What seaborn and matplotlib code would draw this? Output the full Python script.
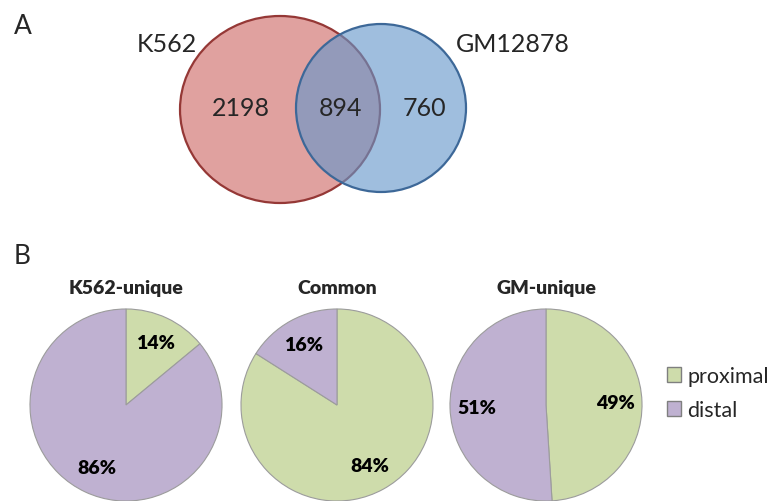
import matplotlib
matplotlib.use("Agg")
import matplotlib.pyplot as plt
from matplotlib.patches import Ellipse, Patch
import seaborn as sns

# Venn diagram: peak counts per region
venn_sets = ["K562", "GM12878"]
venn_counts = [2198, 894, 760]  # K562 only, shared, GM12878 only

# Pie charts: share of proximal / distal sites per group
pie_titles = ["K562-unique", "Common", "GM-unique"]
categories = ["proximal", "distal"]
proximal_pct = [14, 84, 49]
distal_pct = [86, 16, 51]

sns.set_theme(style="white")
plt.rcParams["font.family"] = ["Lato", "DejaVu Sans"]

green = "#CEDCAB"
purple = "#BFB1D1"
red_fill, red_edge = "#E0A19F", "#953836"
blue_fill, blue_edge = "#6497CB", "#3D6898"

W, H = 772, 502
fig = plt.figure(figsize=(W / 100, H / 100), dpi=100)
fig.patch.set_facecolor("white")

# full-figure canvas in pixel units for the Venn diagram and captions
base = fig.add_axes([0, 0, 1, 1])
base.set_xlim(0, W)
base.set_ylim(H, 0)
base.axis("off")

base.text(14, 27, "A", fontsize=19, ha="left", va="center")
base.text(14, 257, "B", fontsize=19, ha="left", va="center")

red = Ellipse((280, 110.5), 200, 187, facecolor=red_fill, edgecolor=red_edge,
              linewidth=1.6, zorder=1)
blue_face = Ellipse((381, 109), 170, 168, facecolor=blue_fill, edgecolor="none",
                    alpha=0.62, zorder=2)
blue_line = Ellipse((381, 109), 170, 168, facecolor="none", edgecolor=blue_edge,
                    linewidth=1.6, zorder=3)
for p in (red, blue_face, blue_line):
    base.add_patch(p)

base.text(167, 44, venn_sets[0], fontsize=18, ha="center", va="center")
base.text(513, 44, venn_sets[1], fontsize=18, ha="center", va="center")
for x, n in zip([241, 340, 424], venn_counts):
    base.text(x, 108, str(n), fontsize=18, ha="center", va="center", zorder=5)

# three pie charts
centers_x = [126, 337, 546]
cy, r = 406, 96.5
for cx, title, p, d in zip(centers_x, pie_titles, proximal_pct, distal_pct):
    ax = fig.add_axes([(cx - r) / W, 1 - (cy + r) / H, 2 * r / W, 2 * r / H])
    ax.pie([p, d], colors=[green, purple], startangle=90, counterclock=False,
           autopct=lambda v: f"{v:.0f}%", pctdistance=0.72,
           wedgeprops=dict(edgecolor="#9C9C9C", linewidth=0.8),
           textprops=dict(fontsize=14, fontweight="heavy", color="black"))
    ax.set_xlim(-1.005, 1.005)
    ax.set_ylim(-1.005, 1.005)
    base.text(cx, 289, title, fontsize=14, fontweight="heavy", ha="center", va="center")

handles = [Patch(facecolor=c, edgecolor="#7F7F7F", linewidth=1.0) for c in (green, purple)]
fig.legend(handles, categories, loc="center left", bbox_to_anchor=(656 / W, 1 - 394 / H),
           frameon=False, fontsize=15.5, handlelength=0.65, handleheight=0.65,
           handletextpad=0.3, labelspacing=0.65, borderpad=0)

fig.savefig("out.png", dpi=100, facecolor="white")
